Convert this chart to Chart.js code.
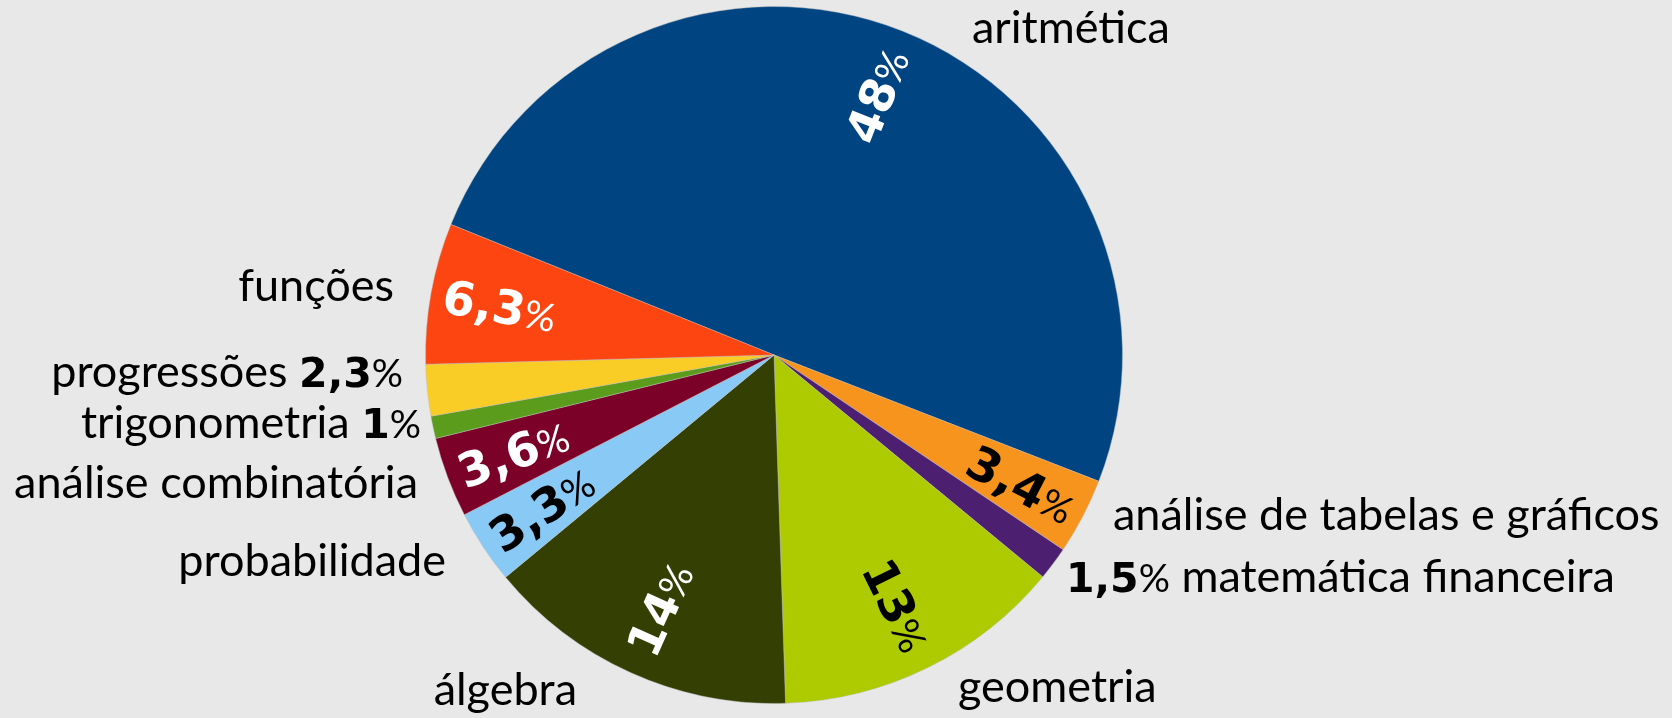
<!DOCTYPE html>
<html lang="pt-BR">
<head>
<meta charset="utf-8">
<title>Conteúdos de matemática</title>
<script src="https://cdn.jsdelivr.net/npm/chart.js@4.4.0/dist/chart.umd.min.js"></script>
<style>
  html, body { margin: 0; padding: 0; background: #e8e8e8; }
  #caixa { width: 1672px; height: 718px; position: relative; }
</style>
</head>
<body>
<div id="caixa"><canvas id="graficoPizza"></canvas></div>
<script>
// ===== DADOS =====
const categorias = [
  "aritmética", "análise de tabelas e gráficos", "matemática financeira", "geometria",
  "álgebra", "probabilidade", "análise combinatória", "trigonometria", "progressões", "funções"
];
const percentuais = [48, 3.4, 1.5, 13, 14, 3.3, 3.6, 1, 2.3, 6.3];

// ===== ESTILO =====
const coresFatias = [
  "#004582", "#f7941e", "#4d1f70", "#adcb00", "#333f03",
  "#88c9f5", "#7b0128", "#5b9c1c", "#f9cc26", "#fc4510"
];
// rótulo dentro da fatia (cor do texto) ou null quando fica fora
const corInterna = ["#fff", "#000", null, "#000", "#fff", "#000", "#fff", null, null, "#fff"];

// posição dos nomes em relação ao centro da pizza
const rotulosExternos = [
  { dx: 198, dy: -312, align: "left", formato: "nome" },
  { dx: 339, dy: 175, align: "left", formato: "nome" },
  { dx: 292, dy: 237, align: "left", formato: "pct-nome" },
  { dx: 184, dy: 347, align: "left", formato: "nome" },
  { dx: -197, dy: 350, align: "right", formato: "nome" },
  { dx: -328, dy: 221, align: "right", formato: "nome" },
  { dx: -356, dy: 143, align: "right", formato: "nome" },
  { dx: -353, dy: 83, align: "right", formato: "nome-pct" },
  { dx: -371, dy: 32, align: "right", formato: "nome-pct" },
  { dx: -380, dy: -54, align: "right", formato: "nome" }
];

const fonteNome = "45px Lato";
const fontePct = "39px Lato";
const fonteNumDentro = "bold 47px 'DejaVu Sans'";
const fonteNumFora = "bold 41px 'DejaVu Sans'";

function formatar(v) {
  return String(v).replace(".", ",");
}

// desenha uma sequência de pedaços de texto com fontes diferentes
function desenharPartes(ctx, partes, x, y, align, cor) {
  let total = 0;
  partes.forEach(p => { ctx.font = p.fonte; p.w = ctx.measureText(p.texto).width; total += p.w; });
  let inicio = x;
  if (align === "right") inicio = x - total;
  if (align === "center") inicio = x - total / 2;
  ctx.fillStyle = cor;
  ctx.textAlign = "left";
  ctx.textBaseline = "alphabetic";
  partes.forEach(p => {
    ctx.font = p.fonte;
    ctx.fillText(p.texto, inicio, y);
    inicio += p.w;
  });
}

// ===== PLUGIN: RÓTULOS =====
const pluginRotulos = {
  id: "rotulos",
  afterDatasetsDraw(chart) {
    const ctx = chart.ctx;
    const meta = chart.getDatasetMeta(0);
    meta.data.forEach((arc, i) => {
      const p = arc.getProps(["x", "y", "startAngle", "endAngle", "outerRadius"], true);
      const meio = (p.startAngle + p.endAngle) / 2;
      const num = formatar(percentuais[i]);

      if (corInterna[i]) {
        const px = p.x + Math.cos(meio) * p.outerRadius * 0.8;
        const py = p.y + Math.sin(meio) * p.outerRadius * 0.8;
        ctx.save();
        ctx.translate(px, py);
        ctx.rotate(Math.cos(meio) < 0 ? meio + Math.PI : meio);
        desenharPartes(ctx, [
          { texto: num, fonte: fonteNumDentro },
          { texto: "%", fonte: fontePct }
        ], 0, 17, "center", corInterna[i]);
        ctx.restore();
      }

      const lay = rotulosExternos[i];
      let partes;
      if (lay.formato === "nome-pct") {
        partes = [
          { texto: categorias[i] + " ", fonte: fonteNome },
          { texto: num, fonte: fonteNumFora },
          { texto: "%", fonte: fontePct }
        ];
      } else if (lay.formato === "pct-nome") {
        partes = [
          { texto: num, fonte: fonteNumFora },
          { texto: "%", fonte: fontePct },
          { texto: " " + categorias[i], fonte: fonteNome }
        ];
      } else {
        partes = [{ texto: categorias[i], fonte: fonteNome }];
      }
      ctx.save();
      desenharPartes(ctx, partes, p.x + lay.dx, p.y + lay.dy, lay.align, "#000");
      ctx.restore();
    });
  }
};

// ===== GRÁFICO =====
const ctx = document.getElementById("graficoPizza").getContext("2d");
new Chart(ctx, {
  type: "pie",
  data: {
    labels: categorias,
    datasets: [{
      data: percentuais,
      backgroundColor: coresFatias,
      borderColor: "rgba(190,190,190,0.45)",
      borderWidth: 1
    }]
  },
  options: {
    responsive: true,
    maintainAspectRatio: false,
    animation: false,
    rotation: -68,
    layout: { padding: { left: 0, right: 124, top: 6, bottom: 14 } },
    plugins: {
      legend: { display: false },
      tooltip: { enabled: false }
    }
  },
  plugins: [pluginRotulos]
});
</script>
</body>
</html>
